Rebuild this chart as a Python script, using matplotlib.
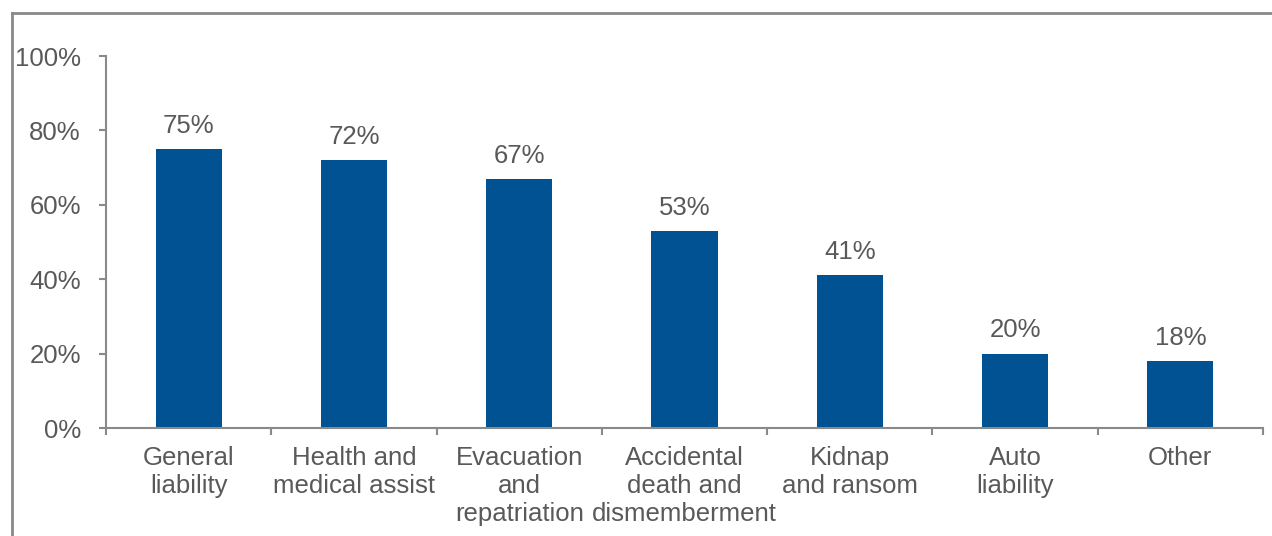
import matplotlib
matplotlib.use("Agg")
import matplotlib.pyplot as plt
from matplotlib.lines import Line2D

categories = ["General\nliability", "Health and\nmedical assist", "Evacuation\nand\nrepatriation",
              "Accidental\ndeath and\ndismemberment", "Kidnap\nand ransom", "Auto\nliability", "Other"]
values = [75, 72, 67, 53, 41, 20, 18]
yticks = [0, 20, 40, 60, 80, 100]

plt.rcParams["font.family"] = ["Liberation Sans", "DejaVu Sans"]
text_color = "#595959"
axis_color = "#898989"
bar_color = "#005293"
fs = 18.5

fig = plt.figure(figsize=(12.72, 5.36), dpi=100)
ax = fig.add_axes([106 / 1272, 1 - 428 / 536, (1263 - 106) / 1272, (428 - 56) / 536])

x = list(range(len(categories)))
ax.bar(x, values, width=0.4, color=bar_color, zorder=2)
for xi, v in zip(x, values):
    ax.text(xi, v + 3, f"{v}%", ha="center", va="bottom", fontsize=fs, color=text_color)

ax.set_xlim(-0.5, len(categories) - 0.5)
ax.set_ylim(0, 100)
ax.set_yticks(yticks)
ax.set_yticklabels([f"{t}%" for t in yticks], fontsize=fs, color=text_color)
ax.set_xticks(x)
ax.set_xticklabels(categories, fontsize=fs, color=text_color, linespacing=1.2, va="top")
ax.tick_params(axis="x", length=0, pad=13)
ax.tick_params(axis="y", length=5, color=axis_color, width=1.5, pad=13)

# category boundary ticks below the x axis
ax.set_xticks([i - 0.5 for i in range(len(categories) + 1)], minor=True)
ax.tick_params(axis="x", which="minor", length=5, color=axis_color, width=1.5)

for side in ["top", "right"]:
    ax.spines[side].set_visible(False)
for side in ["left", "bottom"]:
    ax.spines[side].set_color(axis_color)
    ax.spines[side].set_linewidth(1.5)

# outer frame (left and top edges)
fx = 11.5 / 1272
fy = 1 - 13 / 536
fig.add_artist(Line2D([fx, fx], [0, fy], transform=fig.transFigure, color=axis_color, lw=2))
fig.add_artist(Line2D([fx, 1], [fy, fy], transform=fig.transFigure, color=axis_color, lw=2))

fig.savefig("out.png", dpi=100)
